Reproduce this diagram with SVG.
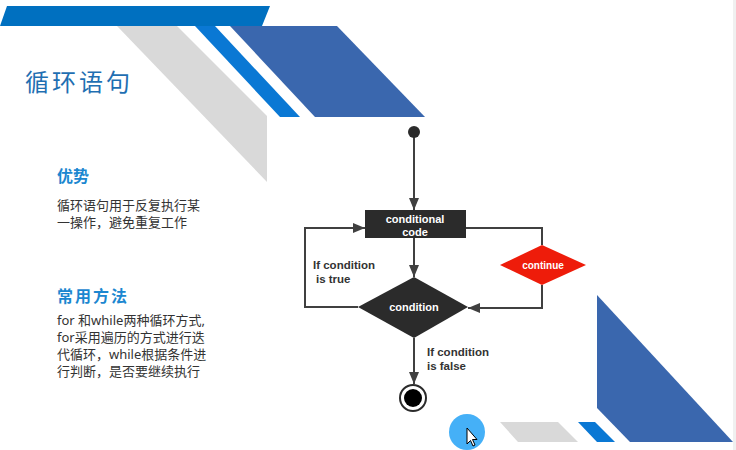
<svg xmlns="http://www.w3.org/2000/svg" width="736" height="450" viewBox="0 0 736 450">
  <defs>
    <marker id="arrow" viewBox="0 0 12 10" refX="12" refY="5" markerWidth="12" markerHeight="10" markerUnits="userSpaceOnUse" orient="auto">
      <path d="M0,0 L12,5 L0,10 Z" fill="#404040"/>
    </marker>
    <style>
      .title { font-family: "Noto Sans CJK SC", sans-serif; font-size: 24px; fill: #1f6fb2; letter-spacing: 3px; }
      .head { font-family: "Noto Sans CJK SC", sans-serif; font-size: 16px; fill: #1b87d0; font-weight: bold; }
      .body { font-family: "Noto Sans", "Noto Sans CJK SC", sans-serif; font-size: 13px; fill: #333333; }
      .wlabel { font-family: "Liberation Sans", Arial, sans-serif; font-size: 11px; font-weight: bold; fill: #ffffff; text-anchor: middle; }
      .blabel { font-family: "Liberation Sans", Arial, sans-serif; font-size: 11.5px; font-weight: bold; fill: #333333; }
      .edge { fill: none; stroke: #404040; stroke-width: 2; }
      .dark { fill: #2b2b2b; }
    </style>
  </defs>

  <rect x="0" y="0" width="736" height="450" fill="#ffffff"/>
  <rect x="733" y="0" width="3" height="450" fill="#f0f0f0"/>

  <!-- decorative bands, top -->
  <g id="decor-top">
    <polygon points="117,26 177,26 267,116 267,182" fill="#d9d9d9"/>
    <polygon points="195,26 215,26 300,117 280,117" fill="#0a78d4"/>
    <polygon points="230,26 337,26 425,117 315,117" fill="#3a67ae"/>
    <polygon points="7,6 270,6 262,26 0,26" fill="#0070c0"/>
  </g>

  <!-- decorative bands, bottom right -->
  <g id="decor-bottom">
    <polygon points="597,295 733,442 630,442 597,408" fill="#3a67ae"/>
    <polygon points="578,422 595,422 615,442 597,442" fill="#0a78d4"/>
    <polygon points="500,422 558,422 578,442 518,442" fill="#d9d9d9"/>
    <circle cx="467" cy="432" r="18" fill="#45b0f7"/>
    <path d="M467,428 L467,444 L470.5,440.5 L473,446 L475,445 L472.5,439.5 L477,439.5 Z" fill="#ffffff" stroke="#000000" stroke-width="1"/>
  </g>

  <!-- text column -->
  <g id="title">
    <text class="title" x="25" y="91">循环语句</text>
  </g>
  <g id="advantage">
    <text class="head" x="57" y="182">优势</text>
    <text class="body" x="57" y="210">循环语句用于反复执行某</text>
    <text class="body" x="57" y="227">一操作，避免重复工作</text>
  </g>
  <g id="methods">
    <text class="head" x="57" y="302" style="letter-spacing:2px">常用方法</text>
    <text class="body" x="57" y="325">for 和while两种循环方式,</text>
    <text class="body" x="57" y="342">for采用遍历的方式进行迭</text>
    <text class="body" x="57" y="359">代循环，while根据条件进</text>
    <text class="body" x="57" y="376">行判断，是否要继续执行</text>
  </g>

  <!-- flowchart connectors -->
  <g id="connectors">
    <line class="edge" x1="414" y1="136" x2="414" y2="210" marker-end="url(#arrow)"/>
    <line class="edge" x1="414" y1="238" x2="414" y2="277" marker-end="url(#arrow)"/>
    <polyline class="edge" points="466,228 542,228 542,245"/>
    <polyline class="edge" points="542,285 542,308 468,308" marker-end="url(#arrow)"/>
    <polyline class="edge" points="358,307 305,307 305,228 365,228" marker-end="url(#arrow)"/>
    <line class="edge" x1="414" y1="338" x2="414" y2="384" marker-end="url(#arrow)"/>
  </g>

  <!-- flowchart nodes -->
  <g id="start">
    <circle cx="414" cy="132" r="6" class="dark"/>
  </g>
  <g id="code">
    <rect x="365" y="210" width="101" height="28" class="dark"/>
    <text class="wlabel" x="415" y="223">conditional</text>
    <text class="wlabel" x="415" y="236">code</text>
  </g>
  <g id="continue">
    <polygon points="542,245 586,265 542,285 500,265" fill="#ee1c0a"/>
    <text class="wlabel" x="543" y="269" style="font-size:10px">continue</text>
  </g>
  <g id="condition">
    <polygon points="414,277 468,307 414,338 358,307" class="dark"/>
    <text class="wlabel" x="414" y="311">condition</text>
  </g>
  <g id="end">
    <circle cx="413" cy="398" r="13" fill="#ffffff" stroke="#2b2b2b" stroke-width="2"/>
    <circle cx="413" cy="398" r="9" fill="#000000"/>
  </g>

  <!-- branch labels -->
  <g id="labels">
    <text class="blabel" x="313" y="269">If condition</text>
    <text class="blabel" x="316" y="283">is true</text>
    <text class="blabel" x="427" y="356">If condition</text>
    <text class="blabel" x="427" y="370">is false</text>
  </g>
</svg>
